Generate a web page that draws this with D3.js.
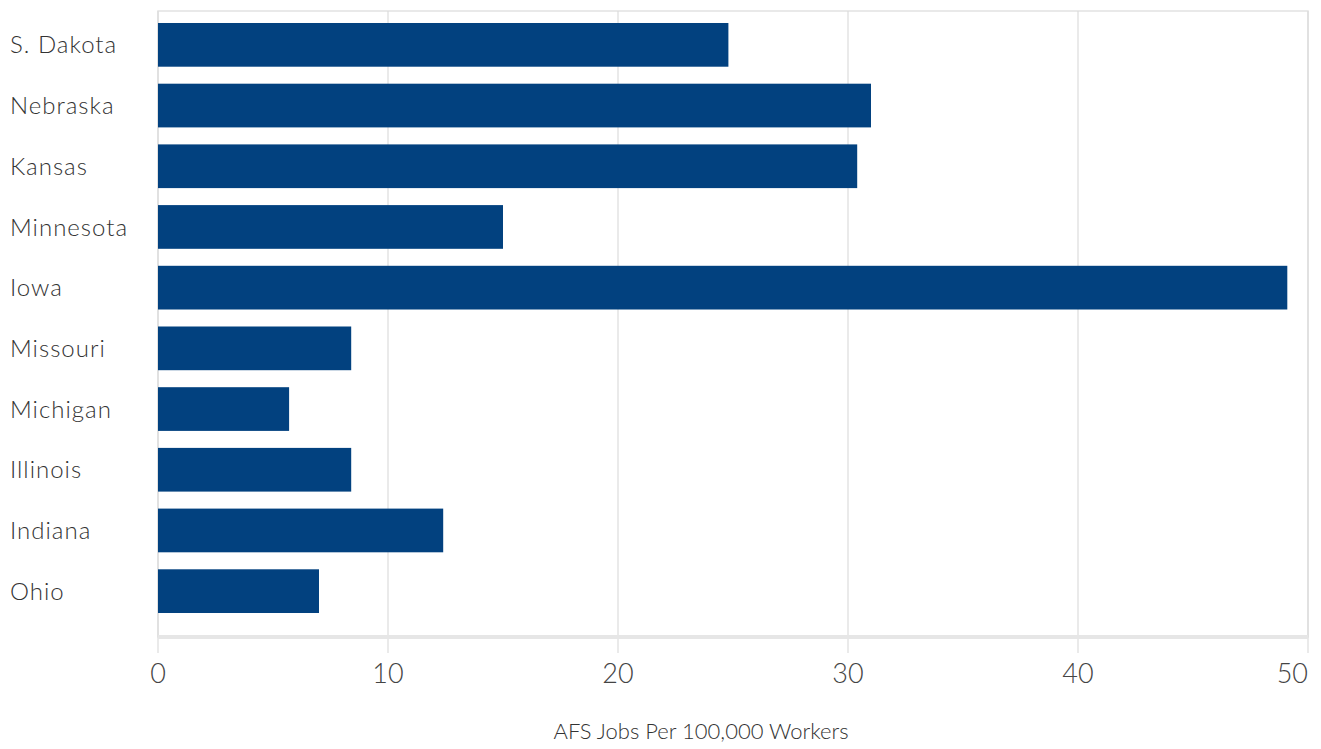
<!DOCTYPE html>
<html lang="en">
<head>
    <meta charset="UTF-8">
    <title>AFS Jobs</title>
    <script src="https://cdn.jsdelivr.net/npm/d3@7/dist/d3.min.js"></script>
    <style>
        body { margin: 0; background: #fff; }
        svg { display: block; }
        text { font-family: Lato, "Open Sans", sans-serif; font-weight: 300; }
    </style>
</head>
<body>
<script type="text/javascript">
    var width = 1321;
    var height = 749;

    var states = ["S. Dakota", "Nebraska", "Kansas", "Minnesota", "Iowa",
        "Missouri", "Michigan", "Illinois", "Indiana", "Ohio"];
    var jobs = [24.8, 31.0, 30.4, 15.0, 49.1, 8.4, 5.7, 8.4, 12.4, 7.0];
    var xTicks = [0, 10, 20, 30, 40, 50];
    var axisTitle = "AFS Jobs Per 100,000 Workers";

    var plot = {left: 158, right: 1308, top: 11, bottom: 637};

    var svg = d3.select("body").append("svg")
            .attr("width", width)
            .attr("height", height);

    var xScale = d3.scaleLinear()
            .domain([0, 50])
            .range([plot.left, plot.right]);

    var yScale = d3.scaleBand()
            .domain(states)
            .range([14.5, 621.5])
            .paddingInner(0.28)
            .paddingOuter(0.14);

    // frame
    svg.append("rect")
            .attr("x", plot.left)
            .attr("y", plot.top)
            .attr("width", plot.right - plot.left)
            .attr("height", plot.bottom - plot.top)
            .attr("fill", "none")
            .attr("stroke", "#e2e2e2")
            .attr("stroke-width", 1.5);

    // grid lines + tick marks
    svg.selectAll(".grid")
            .data(xTicks)
            .enter()
            .append("line")
            .attr("class", "grid")
            .attr("x1", function (d) { return xScale(d); })
            .attr("x2", function (d) { return xScale(d); })
            .attr("y1", plot.top)
            .attr("y2", plot.bottom + 16)
            .attr("stroke", "#dcdcdc")
            .attr("stroke-width", 1.2);

    // thicker bottom baseline
    svg.append("line")
            .attr("x1", plot.left)
            .attr("x2", plot.right)
            .attr("y1", plot.bottom)
            .attr("y2", plot.bottom)
            .attr("stroke", "#e6e6e6")
            .attr("stroke-width", 4);

    // bars
    svg.selectAll(".bar")
            .data(jobs)
            .enter()
            .append("rect")
            .attr("class", "bar")
            .attr("x", xScale(0))
            .attr("y", function (d, i) { return yScale(states[i]); })
            .attr("width", function (d) { return xScale(d) - xScale(0); })
            .attr("height", yScale.bandwidth())
            .attr("fill", "#02417f");

    // category labels
    svg.selectAll(".cat")
            .data(states)
            .enter()
            .append("text")
            .attr("class", "cat")
            .attr("x", 10)
            .attr("y", function (d) { return yScale(d) + yScale.bandwidth() / 2; })
            .attr("dy", "0.36em")
            .attr("font-size", "24px")
            .attr("letter-spacing", "1px")
            .attr("fill", "#333")
            .text(function (d) { return d; });

    // x tick labels (last one kept inside the page edge)
    svg.selectAll(".xlab")
            .data(xTicks)
            .enter()
            .append("text")
            .attr("class", "xlab")
            .attr("x", function (d) {
                return Math.min(xScale(d), width - 2);
            })
            .attr("y", 673)
            .attr("dy", "0.36em")
            .attr("text-anchor", function (d) {
                return xScale(d) + 15 > width ? "end" : "middle";
            })
            .attr("font-size", "27px")
            .attr("fill", "#444")
            .text(function (d) { return d; });

    svg.append("text")
            .attr("x", 701)
            .attr("y", 731)
            .attr("dy", "0.36em")
            .attr("text-anchor", "middle")
            .attr("font-size", "22px")
            .attr("fill", "#333")
            .text(axisTitle);
</script>
</body>
</html>
